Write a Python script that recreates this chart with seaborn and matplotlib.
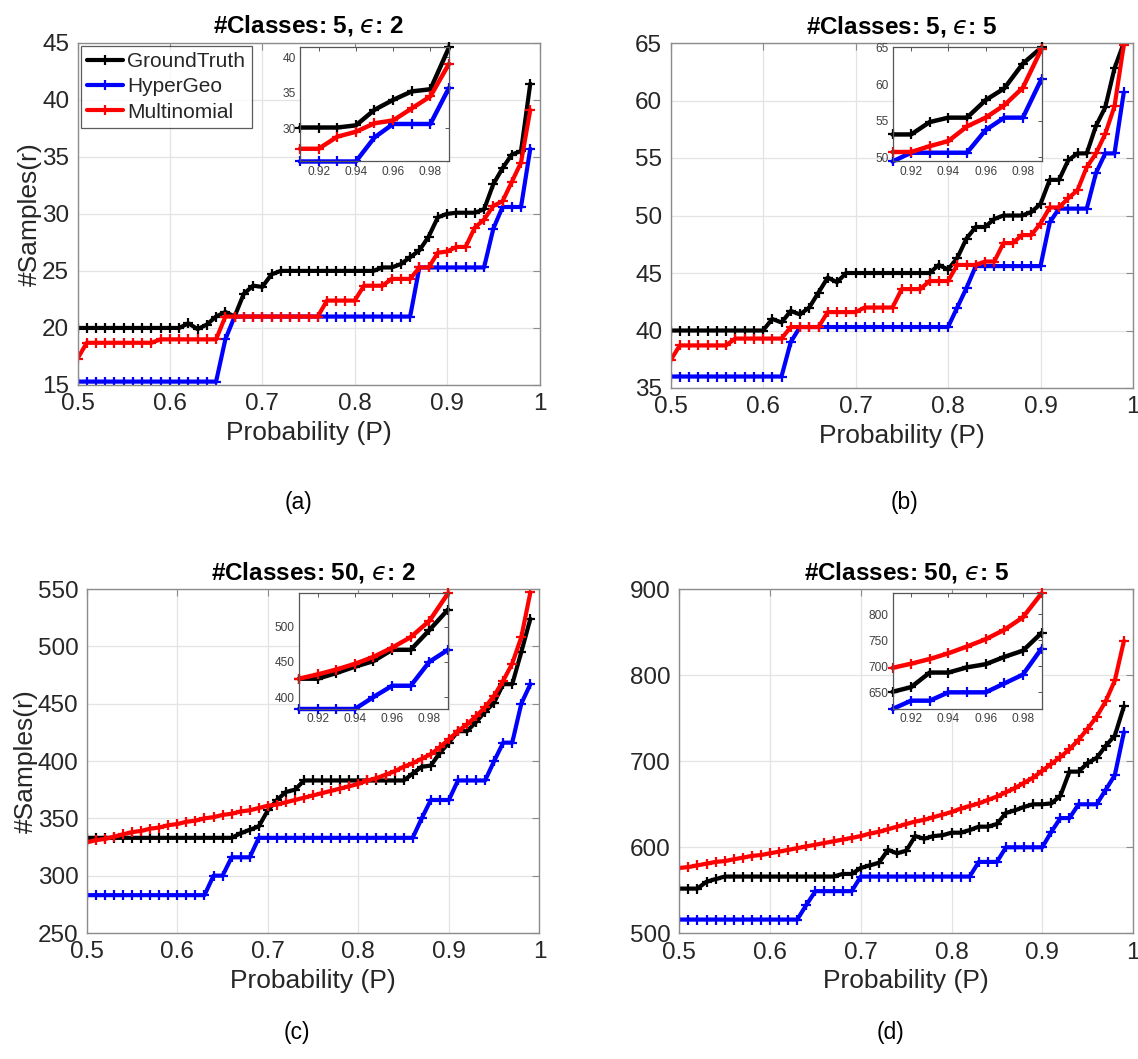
import numpy as np
import pandas as pd
import matplotlib
matplotlib.use("Agg")
import matplotlib.pyplot as plt
import seaborn as sns

# ---------------- data ----------------
P = [0.50, 0.51, 0.52, 0.53, 0.54, 0.55, 0.56, 0.57, 0.58, 0.59,
     0.60, 0.61, 0.62, 0.63, 0.64, 0.65, 0.66, 0.67, 0.68, 0.69,
     0.70, 0.71, 0.72, 0.73, 0.74, 0.75, 0.76, 0.77, 0.78, 0.79,
     0.80, 0.81, 0.82, 0.83, 0.84, 0.85, 0.86, 0.87, 0.88, 0.89,
     0.90, 0.91, 0.92, 0.93, 0.94, 0.95, 0.96, 0.97, 0.98, 0.99]

# (a) #Classes 5, eps 2
gt_a = [20]*12 + [20.4, 19.9, 20.3, 21.0, 21.4, 21.0, 23.0, 23.7, 23.6, 24.7] + [25]*11 + \
       [25.3, 25.3, 25.6, 26.2, 26.8, 28.0, 29.7, 30.0, 30.1, 30.1, 30.1, 30.4, 32.6, 34.0, 35.2, 35.5, 41.4]
hg_a = [15.3]*16 + [19.0] + [21.0]*20 + [25.3]*8 + [28.7, 30.6, 30.6, 30.6, 35.7]
mn_a = [17.3, 18.7] + [18.7]*7 + [19.0]*7 + [21.0]*11 + [22.4]*4 + [23.7]*3 + [24.3]*3 + \
       [25.3]*2 + [26.6, 26.7, 27.1, 27.1, 28.8, 29.5, 30.7, 31.1, 32.8, 34.5, 39.1]

# (b) #Classes 5, eps 5
gt_b = [40]*11 + [41.0, 40.7, 41.7, 41.4, 42.0, 43.3, 44.6, 44.2] + [45]*10 + \
       [45.7, 45.3, 46.3, 48.0, 49.0, 49.0, 49.7, 50.0, 50.0, 50.0, 50.3, 51.0, 53.1, 53.1,
        54.8, 55.4, 55.4, 57.8, 59.4, 62.8, 65.0]
hg_b = [36.0]*13 + [39.0] + [40.3]*17 + [42.0, 43.7] + [45.6]*8 + [49.4] + [50.6]*4 + \
       [53.7, 55.4, 55.4, 60.7]
mn_b = [37.4] + [38.7]*6 + [39.3]*6 + [40.3]*4 + [41.6]*4 + [42.0]*4 + [43.6]*3 + [44.3]*3 + \
       [45.7]*3 + [46.0]*2 + [47.6]*2 + [48.3]*2 + [49.3] + \
       [50.7, 50.7, 51.5, 52.2, 54.2, 55.4, 57.1, 59.5, 64.8]

# (c) #Classes 50, eps 2
gt_c = [333]*17 + [337, 340, 343, 357, 366, 373, 375] + [383]*12 + \
       [389, 395, 396, 407, 416, 426, 426, 434, 443, 451, 467, 467, 495, 524]
hg_c = [283]*14 + [300, 300] + [316]*3 + [333]*18 + [350] + [366]*3 + [383]*4 + \
       [400, 416, 416, 450, 467]
mn_c = [329, 331, 332, 334, 336, 338, 339, 341, 342, 344,
        345, 347, 348, 350, 351, 353, 354, 356, 357, 359,
        361, 362, 364, 366, 368, 370, 372, 374, 376, 378,
        380, 383, 385, 388, 391, 395, 398, 402, 406, 412,
        419, 426, 432, 439, 447, 457, 470, 485, 508, 547]

# (d) #Classes 50, eps 5
gt_d = [552, 552, 552, 560, 563] + [566]*13 + \
       [569, 569, 576, 579, 582, 597, 593, 596, 613, 610, 613, 614, 617, 617, 620, 624,
        624, 627, 640, 643, 647, 650, 650, 651, 660, 688, 688, 698, 704, 718, 730, 764]
hg_d = [516]*14 + [533] + [549]*5 + [566]*13 + [583]*3 + [600]*5 + \
       [618, 634, 634, 650, 650, 650, 667, 684, 734]
mn_d = [576, 577, 579, 581, 583, 584, 586, 588, 590, 591,
        593, 595, 597, 599, 601, 603, 605, 607, 609, 611,
        613, 616, 618, 621, 624, 627, 630, 632, 635, 638,
        641, 645, 648, 651, 655, 659, 664, 669, 675, 681,
        689, 697, 705, 714, 725, 738, 752, 770, 794, 840]

series_names = ["GroundTruth", "HyperGeo", "Multinomial"]
series_colors = ["#000000", "#0000ff", "#ff0000"]

EPS = "$\u03f5$"
panels = [
    dict(title="#Classes: 5, " + EPS + ": 2", data=[gt_a, hg_a, mn_a], ylim=(15, 45),
         yticks=[15, 20, 25, 30, 35, 40, 45], inset_yticks=[30, 35, 40], caption="(a)", ylabel=True),
    dict(title="#Classes: 5, " + EPS + ": 5", data=[gt_b, hg_b, mn_b], ylim=(35, 65),
         yticks=[35, 40, 45, 50, 55, 60, 65], inset_yticks=[50, 55, 60, 65], caption="(b)", ylabel=False),
    dict(title="#Classes: 50, " + EPS + ": 2", data=[gt_c, hg_c, mn_c], ylim=(250, 550),
         yticks=[250, 300, 350, 400, 450, 500, 550], inset_yticks=[400, 450, 500], caption="(c)", ylabel=True),
    dict(title="#Classes: 50, " + EPS + ": 5", data=[gt_d, hg_d, mn_d], ylim=(500, 900),
         yticks=[500, 600, 700, 800, 900], inset_yticks=[650, 700, 750, 800], caption="(d)", ylabel=False),
]

xticks = [0.5, 0.6, 0.7, 0.8, 0.9, 1.0]
xticklabels = ["0.5", "0.6", "0.7", "0.8", "0.9", "1"]
inset_xticks = [0.92, 0.94, 0.96, 0.98]

# ---------------- style ----------------
sns.set_theme(style="white")
plt.rcParams["font.family"] = ["Liberation Sans", "DejaVu Sans"]
plt.rcParams["mathtext.fontset"] = "dejavusans"

W, H = 1138, 1059
fig = plt.figure(figsize=(W / 100, H / 100), dpi=100)
fig.patch.set_facecolor("white")

def frac(left, top, right, bottom):
    return [left / W, 1 - bottom / H, (right - left) / W, (bottom - top) / H]

main_pos = [frac(77.5, 42.7, 539.5, 385), frac(670.5, 43, 1133, 388),
            frac(86.8, 589, 539.4, 933), frac(679.3, 589.3, 1133, 933.3)]
inset_pos = [frac(300, 47.5, 449, 161.5), frac(892.5, 47.5, 1041.5, 161.5),
             frac(299, 593.4, 448, 709), frac(892.5, 593.4, 1041.5, 709)]
caption_pos = [(298, 502), (905, 502), (297, 1033), (891, 1033)]

edge_gray = "#8c8c8c"
tick_col = "#262626"

for i, pan in enumerate(panels):
    ax = fig.add_axes(main_pos[i])
    df = pd.DataFrame({"P": P * 3,
                       "r": pan["data"][0] + pan["data"][1] + pan["data"][2],
                       "method": [n for n in series_names for _ in P]})
    for name, col in zip(series_names, series_colors):
        sub = df[df["method"] == name]
        sns.lineplot(data=sub, x="P", y="r", ax=ax, color=col, linewidth=3.0,
                     marker="+", markersize=7, markeredgewidth=1.6, mec=col,
                     estimator=None, errorbar=None, label=name if i == 0 else None,
                     legend=False)
    ax.set_xlim(0.5, 1.0)
    ax.set_ylim(*pan["ylim"])
    ax.set_xticks(xticks)
    ax.set_xticklabels(xticklabels)
    ax.set_yticks(pan["yticks"])
    ax.grid(True, color="#e3e3e3", linewidth=0.9)
    ax.set_axisbelow(True)
    for s in ax.spines.values():
        s.set_color(edge_gray)
        s.set_linewidth(1.0)
    ax.tick_params(axis="both", direction="in", length=5, width=0.8, color=edge_gray,
                   labelsize=17.5, labelcolor=tick_col, top=True, right=True, pad=6)
    ax.set_xlabel("Probability (P)", fontsize=19, color=tick_col, labelpad=4)
    if pan["ylabel"]:
        ax.set_ylabel("#Samples(r)", fontsize=19, color=tick_col, labelpad=0)
    else:
        ax.set_ylabel("")
    ax.set_title(pan["title"], fontsize=17.5, fontweight="bold", color="black", pad=7)

    if i == 0:
        leg = ax.legend(loc="upper left", fontsize=15, frameon=True, fancybox=False,
                        borderaxespad=0.15, handlelength=1.75, handletextpad=0.2,
                        labelspacing=0.3, borderpad=0.3)
        leg.get_frame().set_edgecolor("#333333")
        leg.get_frame().set_linewidth(0.9)

    # inset
    ins = fig.add_axes(inset_pos[i])
    sel = [k for k, p in enumerate(P) if p >= 0.905]
    ymin, ymax = np.inf, -np.inf
    for series, name, col in zip(pan["data"], series_names, series_colors):
        xs = [P[k] for k in sel]
        ys = [series[k] for k in sel]
        ymin = min(ymin, min(ys)); ymax = max(ymax, max(ys))
        sns.lineplot(x=xs, y=ys, ax=ins, color=col, linewidth=3.2, marker="+",
                     markersize=7, markeredgewidth=1.6, mec=col, estimator=None,
                     errorbar=None, legend=False, clip_on=False)
    ins.set_xlim(0.91, 0.99)
    ins.set_ylim(ymin, ymax)
    ins.set_xticks(inset_xticks)
    ins.set_xticklabels([f"{t:.2f}" for t in inset_xticks])
    ins.set_yticks(pan["inset_yticks"])
    ins.set_xlabel(""); ins.set_ylabel("")
    ins.set_facecolor("white")
    for s in ins.spines.values():
        s.set_color("#555555")
        s.set_linewidth(0.9)
    ins.tick_params(axis="both", direction="in", length=3, width=0.7, color="#555555",
                    labelsize=8.6, labelcolor="#404040", top=True, right=True, pad=3)

    cx, cy = caption_pos[i]
    fig.text(cx / W, 1 - cy / H, pan["caption"], ha="center", va="center",
             fontsize=16.5, color="black")

fig.savefig("out.png", dpi=100, facecolor="white")
